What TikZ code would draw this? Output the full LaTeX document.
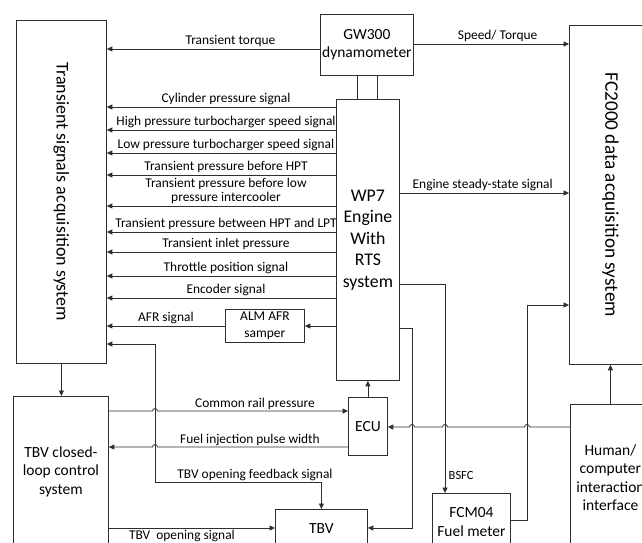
\documentclass[tikz,border=0pt]{standalone}
\usepackage{fontspec}
\setmainfont{Carlito}
\usetikzlibrary{arrows.meta,positioning,calc}
\definecolor{linegray}{rgb}{0.18,0.18,0.18}
\tikzset{
  >={Triangle[length=5.5pt,width=5pt]},
  blk/.style={draw=linegray, line width=0.8pt, fill=white, align=center,
              inner sep=0pt, anchor=north west},
  sig/.style={->, line width=0.8pt, draw=linegray},
  lbl/.style={font=\fontsize{13.4}{14}\selectfont, inner sep=1.5pt, align=center},
  % small bridges where a line jumps over another
  hopl/.style={insert path={arc[start angle=0, end angle=180, radius=2.5pt]}},
  hopr/.style={insert path={arc[start angle=180, end angle=0, radius=2.5pt]}},
}

\begin{document}
\begin{tikzpicture}[x=1pt, y=-1pt,
    big/.style={font=\fontsize{17.8}{21.5}\selectfont, align=center},
    box/.style={font=\fontsize{15.5}{18.5}\selectfont}]
  \useasboundingbox (0,0) rectangle (642,542);
  \clip (0,0) rectangle (642,542);
  % blocks
  \node[blk, minimum width=90, minimum height=343] (tsa) at (16,20) {};
  \node[big, rotate=-90, font=\fontsize{18}{21.5}\selectfont] at (tsa.center) {Transient signals acquisition system};
  \node[blk, box, minimum width=93, minimum height=61] (dyn) at (320,14) {GW300\\dynamometer};
  \node[blk, minimum width=20, minimum height=24] (shaft) at (357,75) {};
  \node[blk, big, minimum width=63, minimum height=281] (eng) at (336,99) {WP7\\Engine\\With\\RTS\\system};
  \node[blk, minimum width=82, minimum height=339] (fc) at (569,25) {};
  \node[big, rotate=-90, font=\fontsize{19.2}{21.5}\selectfont] at (fc.center) {FC2000 data acquisition system};
  \node[blk, font=\fontsize{13.5}{17}\selectfont, minimum width=79, minimum height=33] (alm) at (225,309) {ALM AFR\\samper};
  \node[blk, box, minimum width=95, minimum height=150] (tbvc) at (13,396) {TBV closed-\\loop control\\system};
  \node[blk, box, minimum width=39, minimum height=58] (ecu) at (348,397) {ECU};
  \node[blk, box, minimum width=92, minimum height=38] (tbv) at (275,509) {TBV};
  \node[blk, box, minimum width=78, minimum height=57] (fcm) at (432,493) {FCM04\\Fuel meter};
  \node[blk, box, minimum width=80, minimum height=147] (hci) at (570,404) {Human/\\computer\\interaction\\interface};

  % dynamometer signals
  \draw[sig] (dyn.west |- 0,49) -- (tsa.east |- 0,49) node[lbl, pos=0.42, above] {Transient torque};
  \draw[sig] (dyn.east |- 0,44) -- (fc.west |- 0,44) node[lbl, pos=0.54, above] {Speed/ Torque};

  % engine signals to the transient acquisition
  \foreach \yy/\txt in {107/{Cylinder pressure signal},
                        130/{High pressure turbocharger speed signal},
                        153/{Low pressure turbocharger speed signal},
                        175/{Transient pressure before HPT},
                        206/{Transient pressure before low\\pressure intercooler},
                        232/{Transient pressure between HPT and LPT},
                        252/{Transient inlet pressure},
                        276/{Throttle position signal},
                        298/{Encoder signal}}
    \draw[sig] (eng.west |- 0,\yy) -- (tsa.east |- 0,\yy) node[lbl, pos=0.48, above] {\txt};
  \draw[sig] (eng.west |- 0,326) -- (alm.east |- 0,326);
  \draw[sig] (alm.west |- 0,326) -- (tsa.east |- 0,326) node[lbl, midway, above] {AFR signal};

  % TBV feedback loop
  \coordinate (fbtop) at (155,344);
  \coordinate (fbbot) at (155,482);
  \draw[sig, <->] (tsa.east |- fbtop) -- (fbtop) -- (fbbot) -| (tbv.north);
  \node[lbl, above] at (255,482) {TBV opening feedback signal};
  \draw[sig] (tsa.south) -- (tsa.south |- tbvc.north);
  \draw[sig] (tbvc.east |- 0,411) -- (152.5,411) [hopr] -- (ecu.west |- 0,411);
  \node[lbl, above] at (255,411) {Common rail pressure};
  \draw[sig] (ecu.west |- 0,447) -- (157.5,447) [hopl] -- (tbvc.east |- 0,447);
  \node[lbl, above] at (250,447) {Fuel injection pulse width};
  \draw[sig] (tbvc.east |- 0,528) -- (tbv.west |- 0,528) node[lbl, pos=0.44, below] {TBV\ \ opening signal};
  \draw[sig] (ecu.north) -- (eng.south);

  % engine outputs on the right
  \draw[sig] (eng.east |- 0,193) -- (fc.west |- 0,193) node[lbl, pos=0.49, above] {Engine steady-state signal};
  \draw[sig] (eng.east |- 0,284) -| (fcm.north -| 445,0);
  \node[lbl, right, font=\fontsize{12.5}{14}\selectfont] at (447,475) {BSFC};
  \draw[sig] (eng.east |- 0,328) -| (412,528) -- (tbv.east |- 0,528);
  \draw[sig] (fcm.east |- 0,520) -| (527,305) -- (fc.west |- 0,305);
  \draw[sig] (hci.north) -- (fc.south);
  \draw[sig] (hci.west |- 0,427) -- (529.5,427) [hopl] -- (447.5,427) [hopl]
    -- (414.5,427) [hopl] -- (ecu.east |- 0,427);
\end{tikzpicture}
\end{document}
